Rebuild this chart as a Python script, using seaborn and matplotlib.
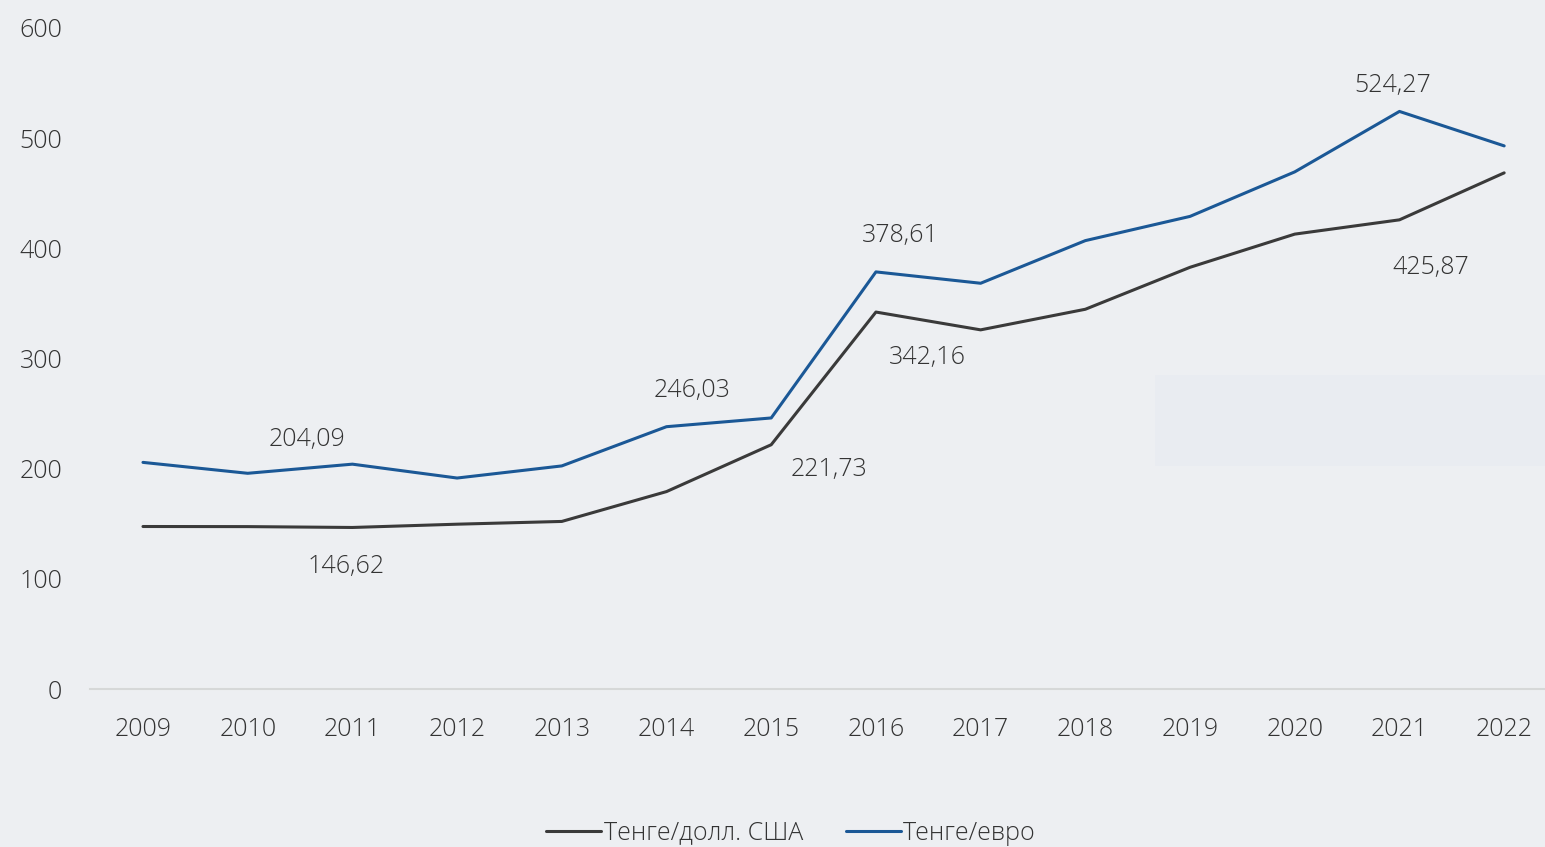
import matplotlib
matplotlib.use("Agg")
import matplotlib.pyplot as plt
import seaborn as sns
import pandas as pd
from matplotlib.patches import Rectangle

# ---- data ----
years = [2009, 2010, 2011, 2012, 2013, 2014, 2015, 2016, 2017, 2018, 2019, 2020, 2021, 2022]
usd = [147.5, 147.4, 146.62, 149.6, 152.1, 179.2, 221.73, 342.16, 326.0, 344.7, 382.8, 412.9, 425.87, 468.5]
eur = [205.7, 195.8, 204.09, 191.5, 202.5, 238.1, 246.03, 378.61, 368.3, 407.0, 429.0, 469.4, 524.27, 493.0]
series_names = ["Тенге/долл. США", "Тенге/евро"]
yticks = [0, 100, 200, 300, 400, 500, 600]

# labelled points: (series index, year index)
labelled = [(1, 2), (0, 2), (1, 6), (0, 6), (1, 7), (0, 7), (1, 12), (0, 12)]
# label offsets in pixels (dx, dy up)
label_offsets = [(-45, 25), (-6, -39), (-79, 27), (58, -25), (24, 36), (51, -45), (-7, 26), (31, -48)]

# ---- styling ----
BG = "#edeff2"
TXT = "#333333"
colors = ["#3a3a3a", "#1b5896"]
FW = "light"
FS = 18

sns.set_theme(style="white")
plt.rcParams["font.family"] = ["Open Sans", "DejaVu Sans"]
plt.rcParams["font.weight"] = FW

df = pd.DataFrame({
    "x": list(range(len(years))) * 2,
    "value": usd + eur,
    "series": [series_names[0]] * len(years) + [series_names[1]] * len(years),
})

fig = plt.figure(figsize=(15.45, 8.47), dpi=100)
fig.patch.set_facecolor(BG)
fig.patches.append(Rectangle((1155 / 1545, 1 - 466 / 847), 390 / 1545, 91 / 847,
                             transform=fig.transFigure, facecolor="#e9ecf1",
                             edgecolor="none", zorder=0))

ax = fig.add_axes([90 / 1545, 1 - 689 / 847, 1 - 90 / 1545, (689 - 28) / 847])
ax.set_facecolor("none")

sns.lineplot(data=df, x="x", y="value", hue="series", palette=colors,
             linewidth=2.2, ax=ax, legend=False, sort=False)

ax.set_xlim(-0.506, 13.39)
ax.set_ylim(0, 600)
ax.set_xticks(range(len(years)))
ax.set_xticklabels([str(y) for y in years], fontweight=FW)
ax.set_yticks(yticks)
ax.set_yticklabels([str(t) for t in yticks], fontweight=FW)
ax.tick_params(axis="both", length=0, labelsize=FS, labelcolor=TXT)
ax.tick_params(axis="y", pad=20)
ax.tick_params(axis="x", pad=20)
ax.set_xlabel("")
ax.set_ylabel("")
for s in ["left", "right", "top"]:
    ax.spines[s].set_visible(False)
ax.spines["bottom"].set_color("#d6d8d8")
ax.spines["bottom"].set_linewidth(1.5)

vals = [usd, eur]
for (si, yi), (dx, dy) in zip(labelled, label_offsets):
    v = vals[si][yi]
    ax.annotate(f"{v:.2f}".replace(".", ","), xy=(yi, v), xytext=(dx, dy),
                textcoords="offset pixels", ha="center", va="center",
                fontsize=FS, color=TXT, fontweight=FW)

handles = [plt.Line2D([], [], color=c, linewidth=2.2) for c in colors]
fig.legend(handles, series_names, loc="center", bbox_to_anchor=(0.512, 1 - 833 / 847),
           ncol=2, frameon=False, labelcolor=TXT,
           prop={"size": FS, "weight": FW},
           handlelength=2.2, handletextpad=0.1, columnspacing=1.7)

fig.savefig("out.png", dpi=100, facecolor=BG)
